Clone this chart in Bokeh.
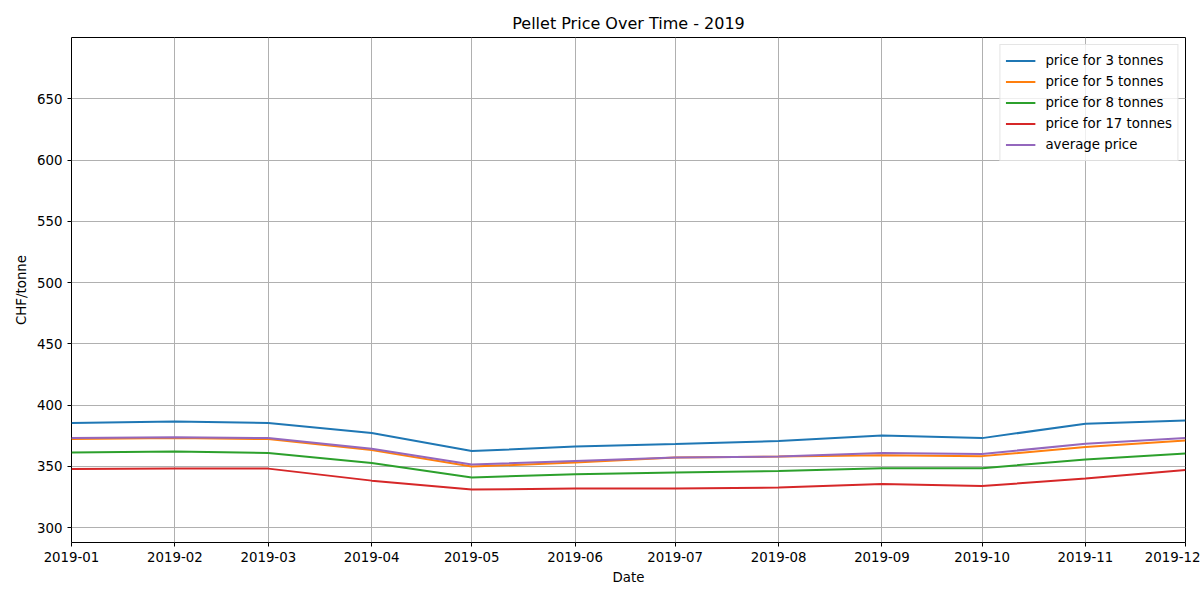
import datetime as dt
from bokeh.plotting import figure
from bokeh.models import FixedTicker, DatetimeTickFormatter, Range1d, Legend, LegendItem
from bokeh.embed import file_html
from bokeh.resources import INLINE

months = ["2019-01", "2019-02", "2019-03", "2019-04", "2019-05", "2019-06",
          "2019-07", "2019-08", "2019-09", "2019-10", "2019-11", "2019-12"]
price_3 = [385.3, 386.5, 385.3, 377.1, 362.4, 366.1, 368.1, 370.6, 375.1, 373.0, 384.8, 387.3]
price_5 = [372.2, 373.0, 372.2, 363.2, 349.8, 353.0, 357.1, 357.9, 359.1, 358.3, 365.7, 371.0]
price_8 = [361.2, 362.0, 360.8, 352.6, 340.8, 343.6, 344.9, 346.1, 348.5, 348.5, 355.5, 360.4]
price_17 = [347.7, 348.1, 348.1, 338.3, 331.0, 331.8, 331.8, 332.6, 335.5, 333.9, 340.0, 346.9]
avg_price = [373.0, 373.8, 373.0, 364.4, 351.4, 354.3, 357.1, 357.9, 360.8, 360.0, 368.5, 373.0]
y_ticks = [300, 350, 400, 450, 500, 550, 600, 650]

dates = [dt.datetime.strptime(m, "%Y-%m") for m in months]

FONT = "DejaVu Sans"
p = figure(width=1200, height=600, x_axis_type="datetime", output_backend="svg",
           toolbar_location=None, title="Pellet Price Over Time - 2019",
           min_border_left=71, min_border_right=15, min_border_top=37, min_border_bottom=58)
p.x_range = Range1d(dates[0], dates[-1])
p.y_range = Range1d(287.8, 700.0)

p.title.align = "center"
p.title.text_font = FONT
p.title.text_font_size = "16px"
p.title.text_font_style = "normal"
p.title.text_color = "black"

p.outline_line_color = "black"
p.outline_line_width = 1
p.outline_line_alpha = 1

for ax in (p.xaxis[0], p.yaxis[0]):
    ax.axis_line_color = None
    ax.major_tick_in = 0
    ax.major_tick_out = 4
    ax.major_tick_line_color = "black"
    ax.minor_tick_line_color = None
    ax.major_label_text_font = FONT
    ax.major_label_text_font_size = "13.33px"
    ax.major_label_text_color = "black"
    ax.axis_label_text_font = FONT
    ax.axis_label_text_font_size = "13.33px"
    ax.axis_label_text_font_style = "normal"
    ax.axis_label_text_color = "black"

tick_ms = [d.timestamp() * 1000 for d in [dt.datetime(d.year, d.month, d.day, tzinfo=dt.timezone.utc) for d in dates]]
p.xaxis[0].ticker = FixedTicker(ticks=tick_ms)
p.xaxis[0].formatter = DatetimeTickFormatter(days="%Y-%m", months="%Y-%m", years="%Y-%m")
p.xaxis[0].axis_label = "Date"
p.yaxis[0].ticker = FixedTicker(ticks=y_ticks)
p.yaxis[0].axis_label = "CHF/tonne"

p.grid.grid_line_color = "#b0b0b0"
p.grid.grid_line_width = 1
p.xgrid.ticker = FixedTicker(ticks=tick_ms)
p.ygrid.ticker = FixedTicker(ticks=y_ticks)

series = [("price for 3 tonnes", price_3, "#1f77b4"),
          ("price for 5 tonnes", price_5, "#ff7f0e"),
          ("price for 8 tonnes", price_8, "#2ca02c"),
          ("price for 17 tonnes", price_17, "#d62728"),
          ("average price", avg_price, "#9467bd")]
items = []
for name, vals, col in series:
    r = p.line(dates, vals, line_color=col, line_width=2)
    items.append(LegendItem(label=name, renderers=[r]))

legend = Legend(items=items, location="top_right", margin=7, padding=5, spacing=0,
                glyph_width=30, glyph_height=21, label_height=21,
                label_text_font=FONT, label_text_font_size="13.33px",
                label_text_color="black",
                border_line_color="#cccccc", border_line_width=1,
                background_fill_alpha=0.8, label_standoff=10)
p.add_layout(legend)

open("out.html", "w").write(file_html(p, INLINE))
